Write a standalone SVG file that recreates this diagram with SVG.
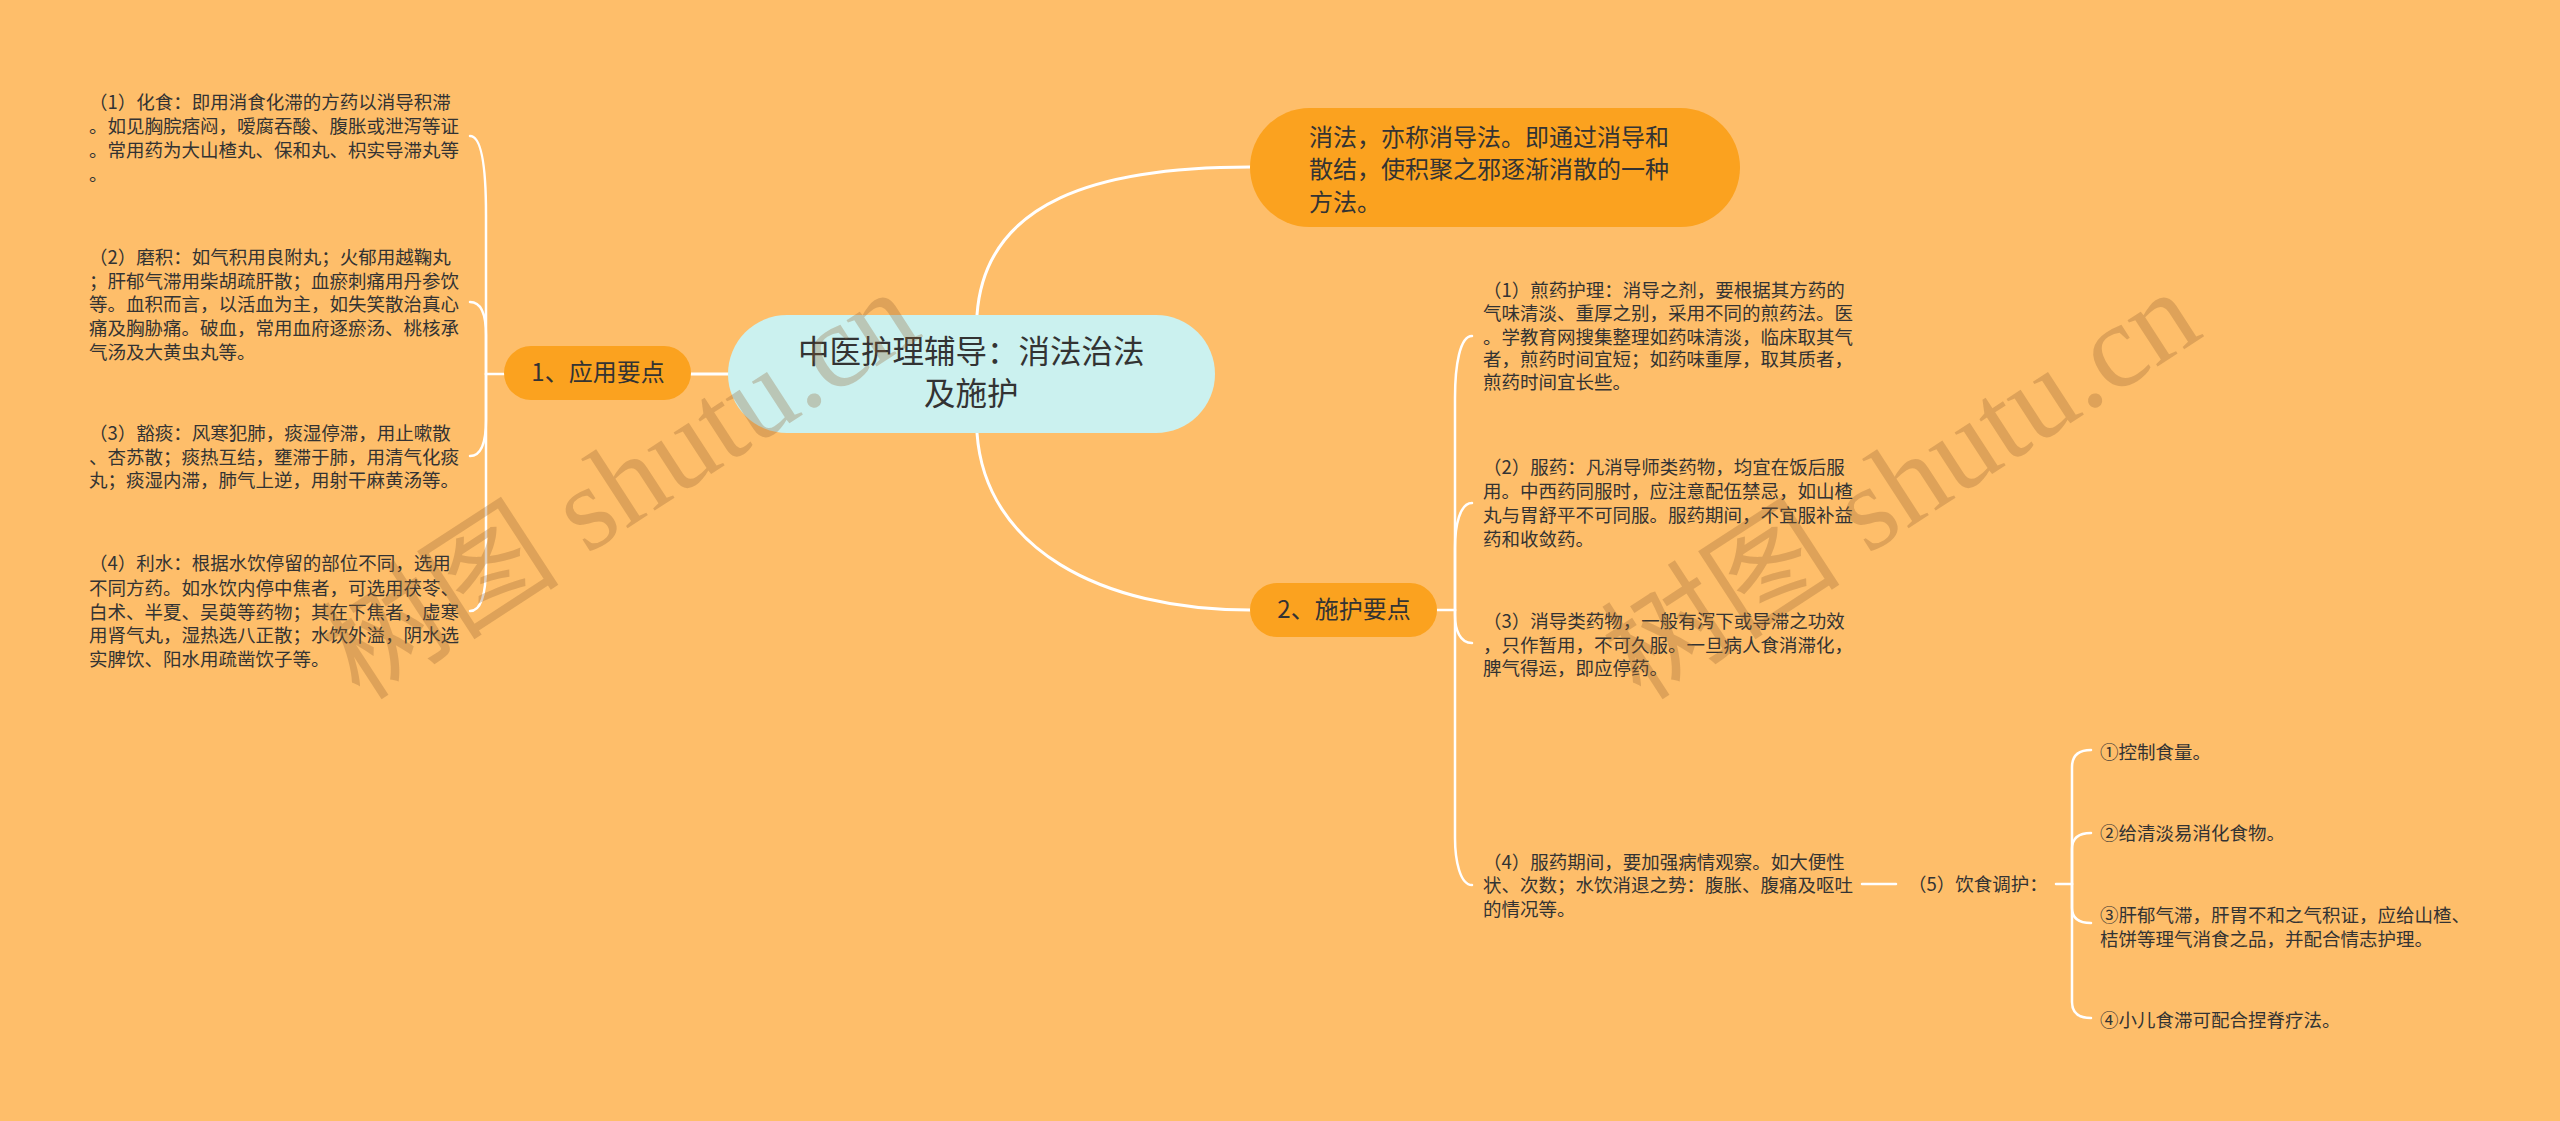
<svg xmlns="http://www.w3.org/2000/svg" width="2560" height="1121" viewBox="0 0 2560 1121">
<defs>
<style>
.t{font-family:"Noto Sans CJK SC","Microsoft YaHei",sans-serif;fill:#333333;}
.s{font-size:18.5px;}
.m{font-size:24px;}
.c{font-size:31.5px;}
.ln{fill:none;stroke:#ffffff;stroke-width:2.5;stroke-linecap:round;}
.lb{fill:none;stroke:#ffffff;stroke-width:3;stroke-linecap:round;}
.or{fill:#FBA21F;}
.wm{font-family:"Liberation Serif","Noto Sans CJK SC",serif;font-size:120px;fill:#966432;fill-opacity:0.3;}
</style>
</defs>
<rect x="0" y="0" width="2560" height="1121" fill="#FEBE6A"/>

<g id="connectors">
<path class="lb" d="M977,315 C985,200 1100,167 1250,167"/>
<path class="lb" d="M977,433 C985,548 1100,610 1250,610"/>
<path class="lb" d="M691,374 H728"/>
<path class="ln" d="M504,374 H486"/>
<path class="ln" d="M486,374 V215 C486,170 482,136 470,136"/>
<path class="ln" d="M486,374 V335 C486,315 482,302 470,302"/>
<path class="ln" d="M486,374 V420 C486,440 482,456 470,456"/>
<path class="ln" d="M486,374 V565 C486,590 482,611 470,611"/>
<path class="ln" d="M1437,610 H1455"/>
<path class="ln" d="M1455,610 V398 C1455,365 1460,336 1472,336"/>
<path class="ln" d="M1455,610 V548 C1455,525 1460,503 1472,503"/>
<path class="ln" d="M1455,610 V615 C1455,630 1460,643 1472,643"/>
<path class="ln" d="M1455,610 V838 C1455,860 1460,885 1472,885"/>
<path class="ln" d="M1862,884 H1896"/>
<path class="ln" d="M2056,884 H2072"/>
<path class="ln" d="M2072,884 V767 Q2072,750 2091,750"/>
<path class="ln" d="M2072,884 V849 Q2072,833 2091,833"/>
<path class="ln" d="M2072,884 V908 Q2072,923 2091,923"/>
<path class="ln" d="M2072,884 V1002 Q2072,1018 2091,1018"/>
</g>

<g id="root">
<rect x="728" y="315" width="487" height="118" rx="59" fill="#CBF1EF"/>
<text class="t c" x="798" y="363">中医护理辅导：消法治法</text>
<text class="t c" x="924" y="405">及施护</text>
</g>

<g id="def">
<rect class="or" x="1250" y="108" width="490" height="119" rx="59.5"/>
<text class="t m" x="1309" y="146">消法，亦称消导法。即通过消导和</text>
<text class="t m" x="1309" y="178">散结，使积聚之邪逐渐消散的一种</text>
<text class="t m" x="1309" y="211">方法。</text>
</g>

<g id="n1">
<rect class="or" x="504" y="346" width="187" height="54" rx="27"/>
<text class="t m" x="598" y="381" text-anchor="middle">1、应用要点</text>
</g>

<g id="n2">
<rect class="or" x="1250" y="583" width="187" height="54" rx="27"/>
<text class="t m" x="1344" y="618" text-anchor="middle">2、施护要点</text>
</g>

<g id="n1-1">
<text class="t s" x="89" y="109">（1）化食：即用消食化滞的方药以消导积滞</text>
<text class="t s" x="89" y="133">。如见胸脘痞闷，嗳腐吞酸、腹胀或泄泻等证</text>
<text class="t s" x="89" y="157">。常用药为大山楂丸、保和丸、枳实导滞丸等</text>
<text class="t s" x="89" y="181">。</text>
</g>
<g id="n1-2">
<text class="t s" x="89" y="264">（2）磨积：如气积用良附丸；火郁用越鞠丸</text>
<text class="t s" x="89" y="288">；肝郁气滞用柴胡疏肝散；血瘀刺痛用丹参饮</text>
<text class="t s" x="89" y="311">等。血积而言，以活血为主，如失笑散治真心</text>
<text class="t s" x="89" y="335">痛及胸胁痛。破血，常用血府逐瘀汤、桃核承</text>
<text class="t s" x="89" y="359">气汤及大黄虫丸等。</text>
</g>
<g id="n1-3">
<text class="t s" x="89" y="440">（3）豁痰：风寒犯肺，痰湿停滞，用止嗽散</text>
<text class="t s" x="89" y="464">、杏苏散；痰热互结，壅滞于肺，用清气化痰</text>
<text class="t s" x="89" y="487">丸；痰湿内滞，肺气上逆，用射干麻黄汤等。</text>
</g>
<g id="n1-4">
<text class="t s" x="89" y="570">（4）利水：根据水饮停留的部位不同，选用</text>
<text class="t s" x="89" y="595">不同方药。如水饮内停中焦者，可选用茯苓、</text>
<text class="t s" x="89" y="619">白术、半夏、吴萸等药物；其在下焦者，虚寒</text>
<text class="t s" x="89" y="642">用肾气丸，湿热选八正散；水饮外溢，阴水选</text>
<text class="t s" x="89" y="666">实脾饮、阳水用疏凿饮子等。</text>
</g>

<g id="n2-1">
<text class="t s" x="1483" y="297">（1）煎药护理：消导之剂，要根据其方药的</text>
<text class="t s" x="1483" y="320">气味清淡、重厚之别，采用不同的煎药法。医</text>
<text class="t s" x="1483" y="344">。学教育网搜集整理如药味清淡，临床取其气</text>
<text class="t s" x="1483" y="366">者，煎药时间宜短；如药味重厚，取其质者，</text>
<text class="t s" x="1483" y="389">煎药时间宜长些。</text>
</g>
<g id="n2-2">
<text class="t s" x="1483" y="474">（2）服药：凡消导师类药物，均宜在饭后服</text>
<text class="t s" x="1483" y="498">用。中西药同服时，应注意配伍禁忌，如山楂</text>
<text class="t s" x="1483" y="522">丸与胃舒平不可同服。服药期间，不宜服补益</text>
<text class="t s" x="1483" y="546">药和收敛药。</text>
</g>
<g id="n2-3">
<text class="t s" x="1483" y="628">（3）消导类药物，一般有泻下或导滞之功效</text>
<text class="t s" x="1483" y="652">，只作暂用，不可久服。一旦病人食消滞化，</text>
<text class="t s" x="1483" y="675">脾气得运，即应停药。</text>
</g>
<g id="n2-4">
<text class="t s" x="1483" y="869">（4）服药期间，要加强病情观察。如大便性</text>
<text class="t s" x="1483" y="892">状、次数；水饮消退之势：腹胀、腹痛及呕吐</text>
<text class="t s" x="1483" y="916">的情况等。</text>
</g>
<g id="n2-4-5">
<text class="t s" x="1908" y="891">（5）饮食调护：</text>
</g>
<g id="n5-1">
<text class="t s" x="2100" y="759">①控制食量。</text>
</g>
<g id="n5-2">
<text class="t s" x="2100" y="840">②给清淡易消化食物。</text>
</g>
<g id="n5-3">
<text class="t s" x="2100" y="922">③肝郁气滞，肝胃不和之气积证，应给山楂、</text>
<text class="t s" x="2100" y="946">桔饼等理气消食之品，并配合情志护理。</text>
</g>
<g id="n5-4">
<text class="t s" x="2100" y="1027">④小儿食滞可配合捏脊疗法。</text>
</g>

<g id="watermark">
<text class="wm" transform="translate(360,702) rotate(-33)">树图 shutu.cn</text>
<text class="wm" transform="translate(1641,702) rotate(-33)">树图 shutu.cn</text>
</g>
</svg>
